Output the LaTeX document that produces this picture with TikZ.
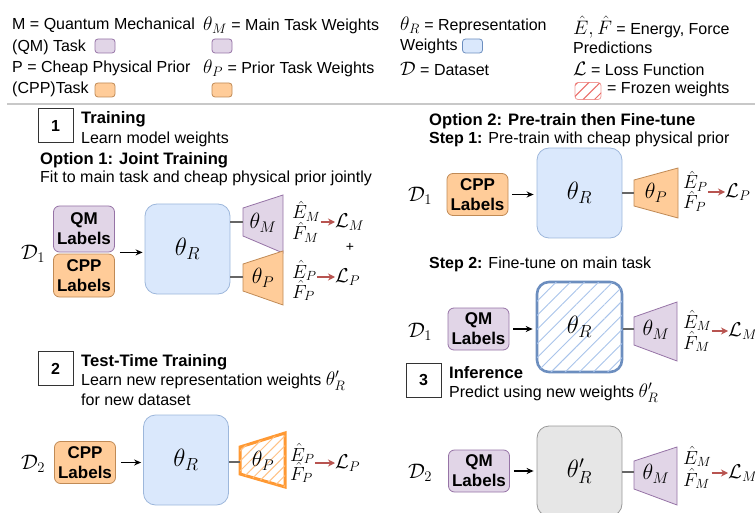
\documentclass[tikz,border=0pt]{standalone}
\usepackage{fix-cm}
\usepackage{fontspec}
\setmainfont{Liberation Sans}
\usetikzlibrary{arrows.meta,patterns.meta,calc}
\newcommand\lgm[1]{{\fontsize{19.5}{19}\selectfont$#1$}}
\definecolor{qmF}{HTML}{E1D5E7}
\definecolor{qmD}{HTML}{9673A6}
\definecolor{cpF}{HTML}{FFCC99}
\definecolor{cpD}{HTML}{C08A55}
\definecolor{repF}{HTML}{DAE8FC}
\definecolor{repD}{HTML}{9DB7DB}
\definecolor{repDD}{HTML}{6C8EBF}
\definecolor{hatB}{HTML}{A9C4EB}
\definecolor{grF}{HTML}{E6E6E6}
\definecolor{grD}{HTML}{999999}
\definecolor{lossR}{HTML}{B85450}
\definecolor{frzO}{HTML}{FF9933}
\definecolor{frzR}{HTML}{EA6B66}
\definecolor{frzRD}{HTML}{F19C99}
\definecolor{sepG}{HTML}{C8C8C8}
\begin{document}
\begin{tikzpicture}[x=1pt,y=-1pt,
  txt/.style={anchor=west,inner sep=0pt,font=\fontsize{16}{19}\selectfont},
  btxt/.style={anchor=west,inner sep=0pt,font=\fontsize{16.6}{19}\selectfont\bfseries},
  lab/.style={draw,rounded corners=6pt,line width=0.8pt,minimum width=61pt,minimum height=42pt,inner sep=0pt,align=center,font=\fontsize{17}{20}\selectfont\bfseries},
  qm/.style={lab,fill=qmF,draw=qmD},
  cpp/.style={lab,fill=cpF,draw=cpD},
  rep/.style={draw=repD,fill=repF,rounded corners=12pt,line width=0.8pt,minimum width=85pt,minimum height=90pt,inner sep=0pt,font=\fontsize{25}{28}\selectfont},
  frozenrep/.style={rep,fill=white,draw=repDD,line width=2.6pt,postaction={pattern={Lines[angle=45,distance=10pt,line width=0.9pt]},pattern color=hatB}},
  grayrep/.style={rep,fill=grF,draw=grD},
  trapM/.style={fill=qmF,draw=qmD,line width=0.8pt},
  trapP/.style={fill=cpF,draw=cpD,line width=0.8pt},
  trapF/.style={fill=white,draw=frzO,line width=3pt,postaction={pattern={Lines[angle=45,distance=7pt,line width=1pt]},pattern color=frzO!60}},
  thtxt/.style={inner sep=0pt,font=\fontsize{22}{25}\selectfont},
  ef/.style={anchor=base west,inner sep=0pt,font=\fontsize{19}{20}\selectfont},
  loss/.style={anchor=west,inner sep=0pt,font=\fontsize{20}{22}\selectfont},
  dset/.style={inner sep=0pt,font=\fontsize{21}{24}\selectfont},
  conn/.style={draw=black!60,line width=1.1pt},
  arr/.style={-{Stealth[length=7pt,width=6pt]},line width=1.4pt},
  larr/.style={-{Stealth[length=7pt,width=7pt]},draw=lossR,line width=1.4pt},
  numbox/.style={draw=black!80,line width=0.8pt,minimum width=35pt,minimum height=34pt,inner sep=0pt,font=\fontsize{16}{19}\selectfont\bfseries},
  swatch/.style={rounded corners=3pt,line width=0.8pt,minimum width=20pt,minimum height=14pt,inner sep=0pt}
]
\useasboundingbox (0,0) rectangle (755,513);

% ---------------- Legend ----------------
\node[txt] (l1) at (12,25) {M = Quantum Mechanical};
\node[txt] (l2) at (12,47) {(QM) Task};
\node[swatch,fill=qmF,draw=qmD] (sw1) at (105,46) {};
\node[txt] (l3) at (12,68) {P = Cheap Physical Prior};
\node[txt] (l4) at (12,89) {(CPP)Task};
\node[swatch,fill=cpF,draw=cpD] (sw2) at (105,90) {};
\node[txt] (l5) at (203,25) {\lgm{\theta_M} = Main Task Weights};
\node[swatch,fill=qmF,draw=qmD] (sw3) at (222,46) {};
\node[txt] (l6) at (203,68) {\lgm{\theta_P} = Prior Task Weights};
\node[swatch,fill=cpF,draw=cpD] (sw4) at (222,90) {};
\node[txt] (l7) at (400,25) {\lgm{\theta_R} = Representation};
\node[txt] (l8) at (400,46) {Weights};
\node[swatch,fill=repF,draw=repDD] (sw5) at (472.5,46) {};
\node[txt] (l9) at (400,69) {\lgm{\mathcal{D}} = Dataset};
\node[txt] (l10) at (573,27) {\lgm{\hat{E}, \hat{F}} = Energy, Force};
\node[txt] (l11) at (573,48) {Predictions};
\node[txt] (l12) at (573,69) {\lgm{\mathcal{L}} = Loss Function};
\node[swatch,minimum width=26pt,minimum height=17pt,fill=white,draw=frzRD,postaction={pattern={Lines[angle=45,distance=8pt,line width=1pt]},pattern color=frzR}] (sw6) at (588,91) {};
\node[txt] (l13) at (607,89) {= Frozen weights};
\draw[sepG,line width=2pt] (7,104) -- (755,104);

% ---------------- Section 1 ----------------
\node[numbox] (n1) at (55.5,125.5) {1};
\node[btxt] (t1) at (81,119) {Training};
\node[txt] (t1b) at (81,139) {Learn model weights};
\node[btxt] (o1) at (40,160) {Option 1: Joint Training};
\node[txt] (o1b) at (40,178) {Fit to main task and cheap physical prior jointly};

\node[dset] (d1a) at (33,254) {$\mathcal{D}_1$};
\node[qm,minimum height=46pt] (qm1) at (84,229) {QM\\Labels};
\node[cpp,minimum height=43pt] (cp1) at (84,275.5) {CPP\\Labels};
\node[rep] (thR1) at (187.5,249) {$\theta_R$};
\draw[arr] ($(qm1.south east)+(5,0)$) -- ($(thR1.west |- qm1.south)+(-2,0)$);

\coordinate (tm1L) at (243,222);
\draw[trapM] (243,208) -- (283,195) -- (283,253) -- (243,236) -- cycle;
\node[thtxt] (tm1) at (263,223) {$\theta_M$};
\coordinate (tp1L) at (243,277);
\draw[trapP] (243,264) -- (283,251) -- (283,305) -- (243,291) -- cycle;
\node[thtxt] (tp1) at (263,278) {$\theta_P$};
\draw[conn] (thR1.east |- tm1L) -- (tm1L);
\draw[conn] (thR1.east |- tp1L) -- (tp1L);

\node[ef] (em1) at (292,219) {$\hat{E}_M$};
\node[ef] (fm1) at (292,240) {$\hat{F}_M$};
\node[loss] (lm1) at (335,222) {$\mathcal{L}_M$};
\draw[larr] (em1.east |- lm1.west) -- (lm1.west);
\node[inner sep=0pt,font=\fontsize{14}{16}\selectfont] (plus1) at (350,247) {+};
\node[ef] (ep1) at (292,278) {$\hat{E}_P$};
\node[ef] (fp1) at (292,298) {$\hat{F}_P$};
\node[loss] (lp1) at (335,277) {$\mathcal{L}_P$};
\draw[larr] (ep1.east |- lp1.west) -- (lp1.west);

% ---------------- Option 2 ----------------
\node[btxt] (o2) at (429,121) {Option 2: Pre-train then Fine-tune};
\node[txt] (s1) at (429,139) {\textbf{Step 1:} Pre-train with cheap physical prior};
\node[dset] (d1b) at (420,196) {$\mathcal{D}_1$};
\node[cpp] (cp3) at (477.5,194.5) {CPP\\Labels};
\node[rep] (thR3) at (579.5,193) {$\theta_R$};
\draw[arr] ($(cp3.east)+(4,0)$) -- ($(thR3.west |- cp3.east)+(-3,0)$);
\coordinate (tp3L) at (634,193);
\draw[trapP] (634,180) -- (678,168) -- (678,218) -- (634,206) -- cycle;
\node[thtxt] (tp3) at (656,193) {$\theta_P$};
\draw[conn] (thR3.east |- tp3L) -- (tp3L);
\node[ef] (ep3) at (683,189) {$\hat{E}_P$};
\node[ef] (fp3) at (683,209) {$\hat{F}_P$};
\node[loss] (lp3) at (725,192) {$\mathcal{L}_P$};
\draw[larr] (ep3.east |- lp3.west) -- (lp3.west);

\node[txt] (s2) at (429,264) {\textbf{Step 2:} Fine-tune on main task};
\node[dset] (d1c) at (420,332) {$\mathcal{D}_1$};
\node[qm] (qm4) at (478.5,329) {QM\\Labels};
\node[frozenrep] (thR4) at (579.5,327) {$\theta_R$};
\draw[arr] ($(qm4.east)+(4,0)$) -- ($(thR4.west |- qm4.east)+(-3,0)$);
\coordinate (tm4L) at (634,329);
\draw[trapM] (634,317) -- (677,302) -- (677,361) -- (634,345) -- cycle;
\node[thtxt] (tm4) at (656,330) {$\theta_M$};
\draw[conn] (thR4.east |- tm4L) -- (tm4L);
\node[ef] (em4) at (683,328) {$\hat{E}_M$};
\node[ef] (fm4) at (683,349) {$\hat{F}_M$};
\node[loss] (lm4) at (728,331) {$\mathcal{L}_M$};
\draw[larr] (em4.east |- lm4.west) -- (lm4.west);

% ---------------- Section 3 ----------------
\node[numbox] (n3) at (423.5,380) {3};
\node[btxt] (t3) at (449,373) {Inference};
\node[txt] (t3b) at (449,393) {Predict using new weights \lgm{\theta'_R}};
\node[dset] (d2b) at (420,473) {$\mathcal{D}_2$};
\node[qm] (qm5) at (479,471) {QM\\Labels};
\node[grayrep] (thR5) at (579.5,471) {$\theta'_R$};
\draw[arr] ($(qm5.east)+(4,0)$) -- ($(thR5.west |- qm5.east)+(-3,0)$);
\coordinate (tm5L) at (634,472);
\draw[trapM] (634,461) -- (677,447) -- (677,505) -- (634,489) -- cycle;
\node[thtxt] (tm5) at (656,474) {$\theta_M$};
\draw[conn] (thR5.east |- tm5L) -- (tm5L);
\node[ef] (em5) at (683,464) {$\hat{E}_M$};
\node[ef] (fm5) at (683,486) {$\hat{F}_M$};
\node[loss] (lm5) at (728,473) {$\mathcal{L}_M$};
\draw[larr] (em5.east |- lm5.west) -- (lm5.west);

% ---------------- Section 2 ----------------
\node[numbox] (n2) at (55.5,368.5) {2};
\node[btxt] (t2) at (81,362) {Test-Time Training};
\node[txt] (t2b) at (81,381) {Learn new representation weights \lgm{\theta'_R}};
\node[txt] (t2c) at (81,400) {for new dataset};
\node[dset] (d2a) at (33,464) {$\mathcal{D}_2$};
\node[cpp] (cp2) at (85,462.5) {CPP\\Labels};
\node[rep] (thR2) at (186,460) {$\theta_R$};
\draw[arr] ($(cp2.east)+(5,0)$) -- ($(thR2.west |- cp2.east)+(-2,0)$);
\coordinate (tp2L) at (240,462);
\draw[trapF] (240,447) -- (285,433) -- (285,487) -- (240,474) -- cycle;
\node[thtxt] (tp2) at (263,461) {$\theta_P$};
\draw[conn] (thR2.east |- tp2L) -- (tp2L);
\node[ef] (ep2) at (290,461) {$\hat{E}_P$};
\node[ef] (fp2) at (290,480) {$\hat{F}_P$};
\node[loss] (lp2) at (335,463) {$\mathcal{L}_P$};
\draw[larr] (ep2.east |- lp2.west) -- (lp2.west);
\end{tikzpicture}
\end{document}
